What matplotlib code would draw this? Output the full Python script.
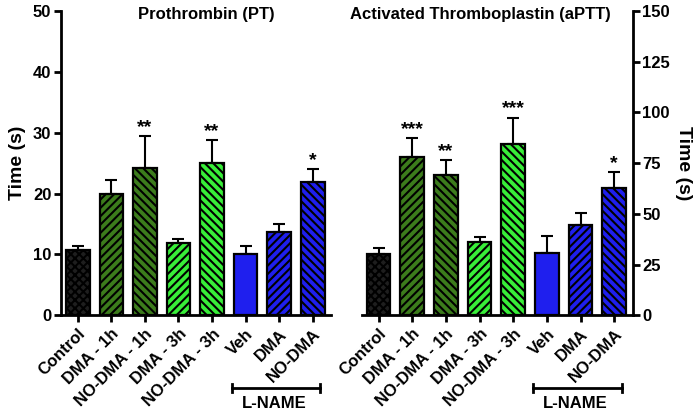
import numpy as np
import matplotlib
matplotlib.use('Agg')
import matplotlib.pyplot as plt
import matplotlib.transforms as mtransforms

plt.rcParams['font.family'] = ['Liberation Sans', 'DejaVu Sans']
plt.rcParams['font.weight'] = 'bold'
plt.rcParams['hatch.linewidth'] = 1.5

groups = ['Control', 'DMA - 1h', 'NO-DMA - 1h', 'DMA - 3h', 'NO-DMA - 3h', 'Veh', 'DMA', 'NO-DMA']

# Prothrombin time (s)
pt_mean = [10.8, 20.0, 24.2, 11.9, 25.0, 10.1, 13.7, 21.9]
pt_sem = [0.5, 2.3, 5.2, 0.6, 3.8, 1.2, 1.3, 2.1]
pt_stars = ['', '', '**', '', '**', '', '', '*']

# Activated thromboplastin time (s)
aptt_mean = [30.0, 78.1, 69.1, 36.3, 84.4, 30.6, 44.5, 62.8]
aptt_sem = [2.9, 9.4, 7.4, 2.5, 13.1, 8.4, 6.0, 7.9]
aptt_stars = ['', '***', '**', '', '***', '', '', '*']

colors = ['#1e1e1e', '#3c7c1c', '#3c7c1c', '#38ee38', '#38ee38', '#1f1fee', '#1f1fee', '#1f1fee']
hatches = ['xxxx', '////', '\\\\\\\\', '////', '\\\\\\\\', '', '////', '\\\\\\\\']

fig = plt.figure(figsize=(6.93, 4.12), dpi=100)
ax1 = fig.add_axes([0.088, 0.235, 0.390, 0.738])
ax2 = fig.add_axes([0.522, 0.235, 0.391, 0.738])

x = np.arange(len(groups))


def draw_panel(ax, mean, sem, stars, ymax, yticks, side):
    ax.bar(x, mean, width=0.7, color=colors, hatch=hatches, edgecolor='black',
           linewidth=1.6, zorder=2)
    ax.errorbar(x, mean, yerr=[np.zeros(len(mean)), sem], fmt='none', ecolor='black',
                elinewidth=1.5, capsize=4.5, capthick=1.5, zorder=1)
    for i in range(len(mean)):
        if stars[i]:
            ax.annotate(stars[i], (x[i], mean[i] + sem[i]), (0, 0), textcoords='offset points',
                        ha='center', va='bottom', fontsize=14, fontweight='bold')
    ax.set_xlim(-0.5, 7.55)
    ax.set_ylim(0, ymax)
    ax.set_yticks(yticks)
    ax.set_xticks(x)
    ax.set_xticklabels(groups, rotation=45, ha='right', va='top', rotation_mode='anchor',
                       fontsize=12, fontweight='bold')
    ax.tick_params(axis='both', width=2, length=5, labelsize=12, pad=2)
    ax.tick_params(axis='x', pad=3)
    for s in ['top', 'left', 'right']:
        ax.spines[s].set_visible(False)
    ax.spines['bottom'].set_linewidth(2)
    ax.spines[side].set_visible(True)
    ax.spines[side].set_linewidth(2)
    if side == 'right':
        ax.yaxis.tick_right()
        ax.yaxis.set_label_position('right')
        ax.set_ylabel('Time (s)', fontsize=14, fontweight='bold', rotation=270, labelpad=16)
    else:
        ax.set_ylabel('Time (s)', fontsize=14, fontweight='bold', labelpad=5)
    for lab in ax.get_yticklabels():
        lab.set_fontweight('bold')
    # L-NAME bracket
    tr = mtransforms.blended_transform_factory(ax.transData, ax.transAxes)
    yb = -0.24
    ax.plot([4.6, 7.22], [yb, yb], color='black', lw=2, transform=tr, clip_on=False)
    ax.plot([4.6, 4.6], [yb - 0.013, yb + 0.013], color='black', lw=2, transform=tr, clip_on=False)
    ax.plot([7.22, 7.22], [yb - 0.013, yb + 0.013], color='black', lw=2, transform=tr, clip_on=False)
    ax.text(5.85, yb - 0.025, 'L-NAME', transform=tr, ha='center', va='top',
            fontsize=12, fontweight='bold')


draw_panel(ax1, pt_mean, pt_sem, pt_stars, 50, [0, 10, 20, 30, 40, 50], 'left')
draw_panel(ax2, aptt_mean, aptt_sem, aptt_stars, 150, [0, 25, 50, 75, 100, 125, 150], 'right')

fig.text(206 / 693, 1 - 15 / 412, 'Prothrombin (PT)', ha='center', va='center',
         fontsize=12, fontweight='bold')
fig.text(480 / 693, 1 - 15 / 412, 'Activated Thromboplastin (aPTT)', ha='center', va='center',
         fontsize=12, fontweight='bold')

fig.savefig('out.png', dpi=100)
